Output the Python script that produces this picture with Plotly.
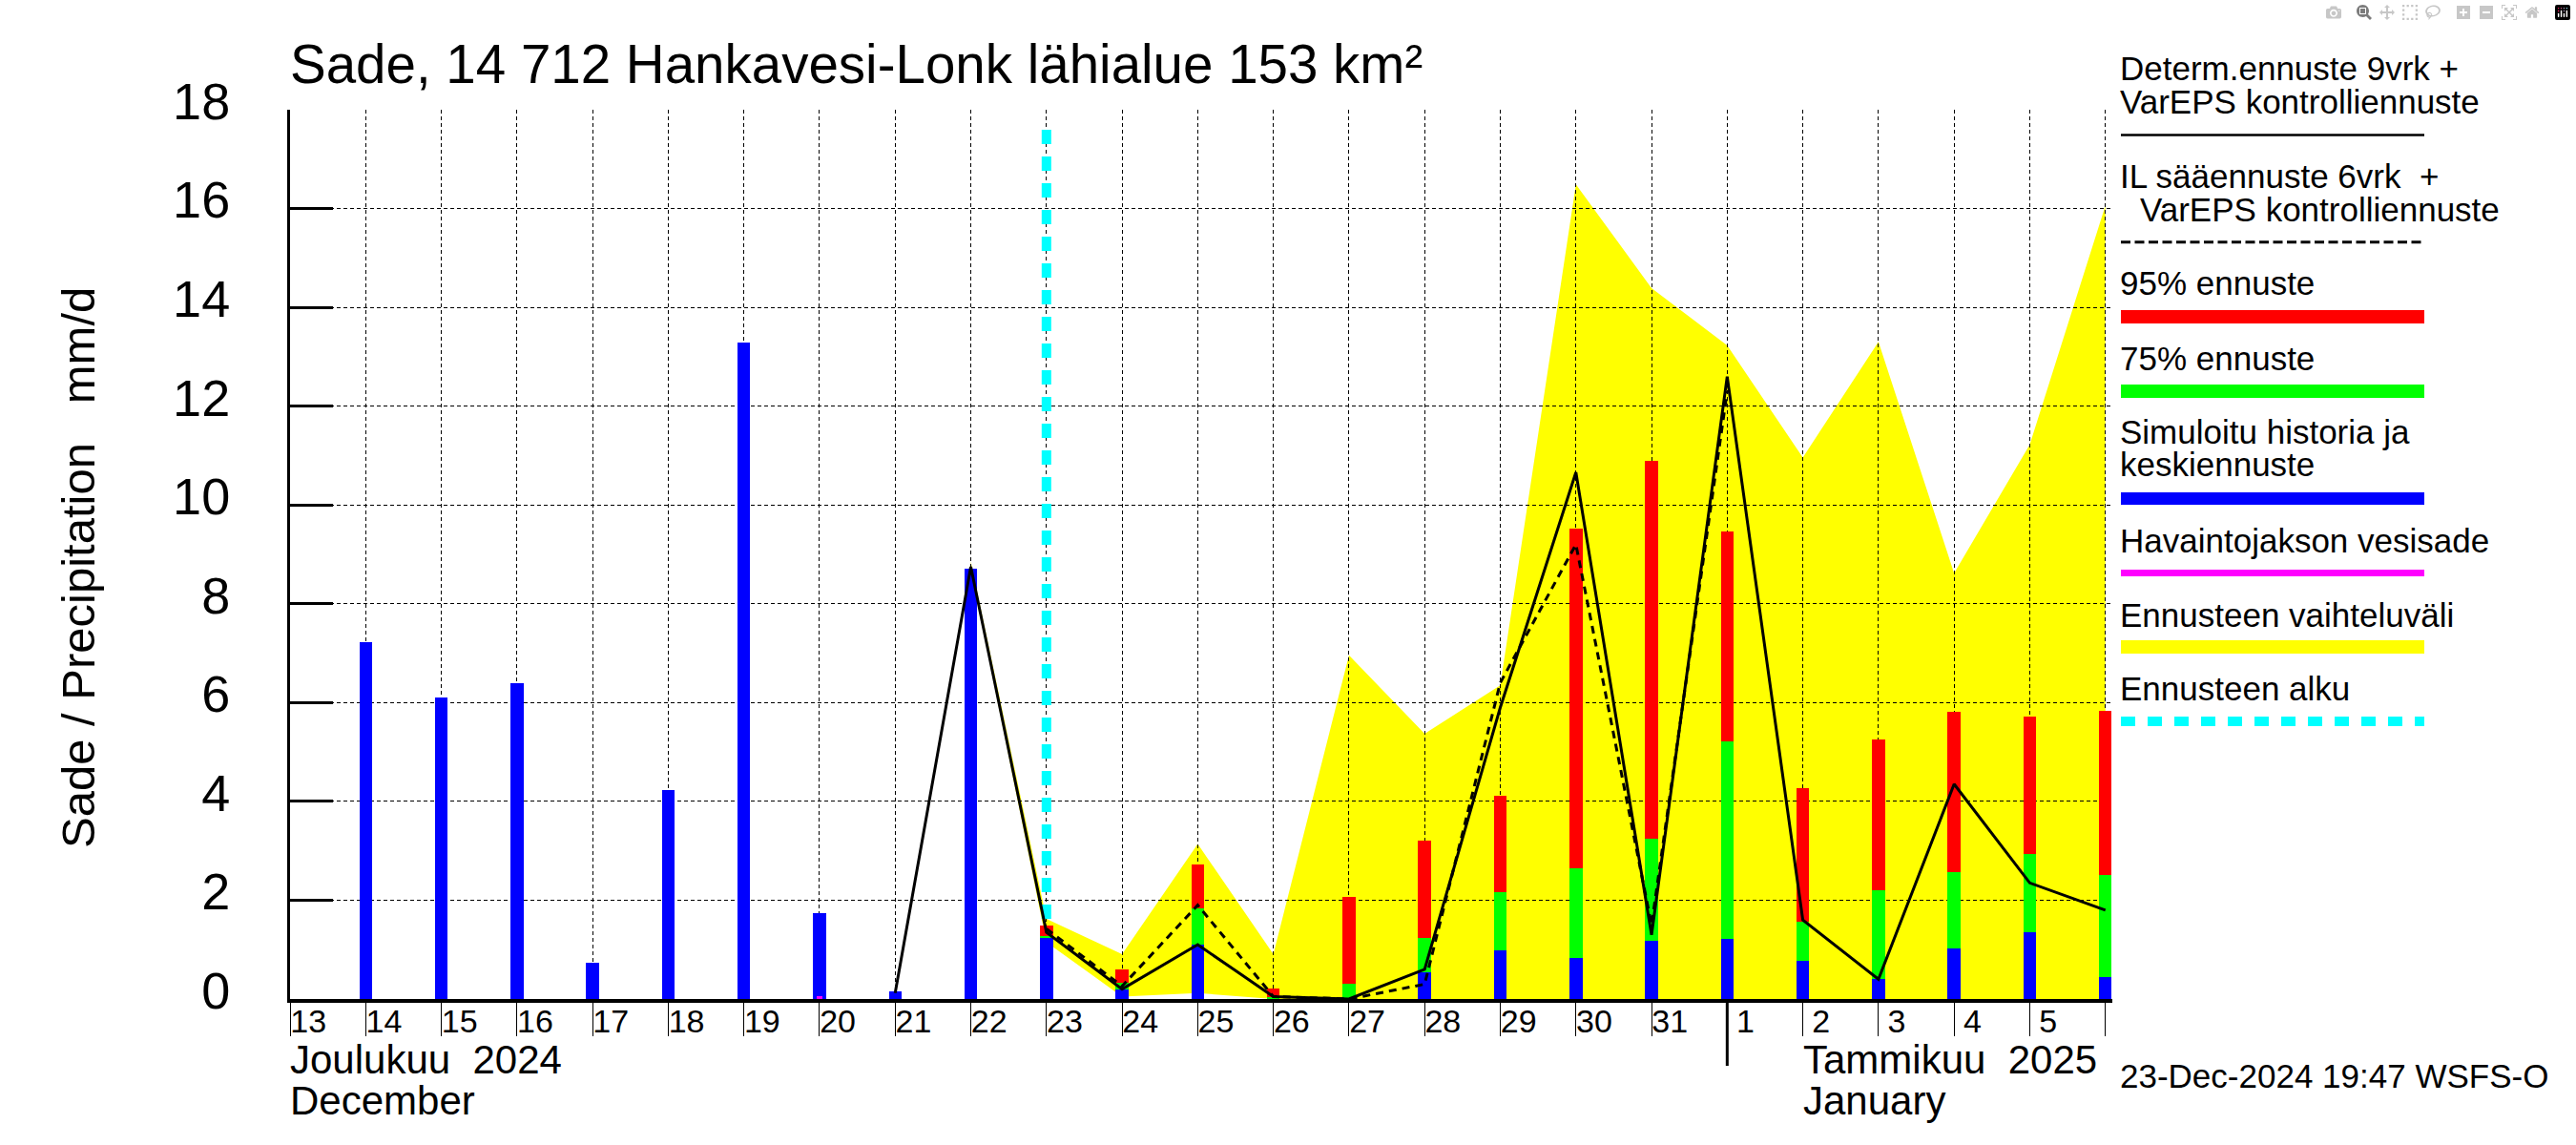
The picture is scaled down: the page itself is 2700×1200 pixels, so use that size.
import pandas as pd
import plotly.graph_objects as go

# ---------------- data ----------------
hist_dates = pd.date_range("2024-12-14", "2024-12-22")
hist_sim = [7.22, 6.10, 6.39, 0.73, 4.23, 13.29, 1.73, 0.15, 8.71]

obs_dates = [pd.Timestamp("2024-12-20")]
obs_rain = [0.05]

fc_dates = pd.date_range("2024-12-23", "2025-01-06")
fc_median = [1.23, 0.19, 1.10, 0.0, 0.0, 0.54, 0.99, 0.83, 1.18, 1.21, 0.78, 0.41, 1.03, 1.36, 0.45]
fc_75 = [1.27, 0.33, 1.84, 0.04, 0.31, 1.24, 2.17, 2.65, 3.25, 5.21, 1.57, 2.20, 2.57, 2.94, 2.51]
fc_95 = [1.49, 0.60, 2.72, 0.21, 2.07, 3.21, 4.11, 9.52, 10.89, 9.47, 4.26, 5.26, 5.82, 5.72, 5.84]

det_dates = pd.date_range("2024-12-21", "2025-01-06")
det_vals = [0.12, 8.75, 1.35, 0.20, 1.10, 0.05, 0.0, 0.60, 5.90, 10.66, 1.30, 12.60, 1.60, 0.40, 4.35, 2.35, 1.80]

il_dates = pd.date_range("2024-12-23", "2025-01-01")
il_vals = [1.42, 0.26, 1.90, 0.05, 0.0, 0.30, 6.40, 9.20, 1.50, 12.30]

env_dates = pd.date_range("2024-12-22", "2025-01-06")
env_hi = [8.85, 1.62, 0.91, 3.14, 0.91, 6.96, 5.37, 6.35, 16.49, 14.39, 13.23, 10.96, 13.30, 8.62, 11.22, 16.06]
env_lo = [8.70, 1.15, 0.05, 0.12, 0.0, 0.0, 0.0, 0.0, 0.0, 0.0, 0.0, 0.0, 0.0, 0.0, 0.0, 0.0]

forecast_start = pd.Timestamp("2024-12-23")
month_start = pd.Timestamp("2025-01-01")

tick_dates = pd.date_range("2024-12-13", "2025-01-06")
label_dates = pd.date_range("2024-12-13", "2025-01-05")
day_labels = ["13", "14", "15", "16", "17", "18", "19", "20", "21", "22", "23", "24",
              "25", "26", "27", "28", "29", "30", "31", "1", "2", "3", "4", "5"]
y_ticks = [0, 2, 4, 6, 8, 10, 12, 14, 16, 18]

title = "Sade, 14 712 Hankavesi-Lonk lähialue 153 km²"
y_title = "Sade / Precipitation\u00a0\u00a0 mm/d"
stamp = "23-Dec-2024 19:47 WSFS-O"

# ---------------- geometry / style ----------------
W, H = 2700, 1200
L, R, T, B = 304, 2214, 115, 1047
FONT = "Liberation Sans, Arial, Helvetica, sans-serif"
BAR_W = 0.17 * 86400000
x_range = [tick_dates[0], tick_dates[-1] + pd.Timedelta(hours=2.2)]


def px_x(px):
    return (px - L) / (R - L)


def px_y(py):
    return (B - py) / (B - T)


fig = go.Figure()

# subplot 1: forecast range envelope (under the grid)
fig.add_trace(go.Scatter(x=env_dates, y=env_lo, mode="lines", line=dict(width=0, color="yellow"),
                         xaxis="x", yaxis="y", hoverinfo="skip"))
fig.add_trace(go.Scatter(x=env_dates, y=env_hi, mode="lines", line=dict(width=0, color="yellow"),
                         fill="tonexty", fillcolor="#FFFF00", xaxis="x", yaxis="y"))

# subplot 2: grid, bars, lines
start_idx = list(env_dates).index(forecast_start)
fig.add_trace(go.Scatter(x=[forecast_start, forecast_start], y=[env_hi[start_idx], 17.8], mode="lines",
                         line=dict(color="#00FFFF", width=10, dash="15px,13px"),
                         xaxis="x2", yaxis="y2"))
fig.add_trace(go.Bar(x=fc_dates, y=fc_95, width=BAR_W, marker=dict(color="#FF0000", line=dict(width=0)),
                     xaxis="x2", yaxis="y2"))
fig.add_trace(go.Bar(x=fc_dates, y=fc_75, width=BAR_W, marker=dict(color="#00FF00", line=dict(width=0)),
                     xaxis="x2", yaxis="y2"))
fig.add_trace(go.Bar(x=fc_dates, y=fc_median, width=BAR_W, marker=dict(color="#0000FF", line=dict(width=0)),
                     xaxis="x2", yaxis="y2"))
fig.add_trace(go.Bar(x=hist_dates, y=hist_sim, width=BAR_W, marker=dict(color="#0000FF", line=dict(width=0)),
                     xaxis="x2", yaxis="y2"))
fig.add_trace(go.Bar(x=obs_dates, y=obs_rain, width=0.07 * 86400000,
                     marker=dict(color="#FF00FF", line=dict(width=0)), xaxis="x2", yaxis="y2"))
fig.add_trace(go.Scatter(x=det_dates, y=det_vals, mode="lines", line=dict(color="black", width=3),
                         xaxis="x2", yaxis="y2"))
fig.add_trace(go.Scatter(x=il_dates, y=il_vals, mode="lines", line=dict(color="black", width=3, dash="8px,6px"),
                         xaxis="x2", yaxis="y2"))

label_pos = [d + pd.Timedelta(hours=5.8) for d in label_dates]

annotations = []


def text(s, x_px, base_px, size, anchor="left"):
    annotations.append(dict(text=s, x=px_x(x_px), y=px_y(base_px - 0.3465 * size), xref="paper", yref="paper",
                            xanchor=anchor, yanchor="middle", showarrow=False,
                            font=dict(family=FONT, size=size, color="black")))


text(title, 302, 87, 56.5)
text("Joulukuu\u00a0\u00a02024", 302, 1125, 42)
text("December", 302, 1168, 42)
text("Tammikuu\u00a0\u00a02025", 1888, 1125, 42)
text("January", 1888, 1168, 42)
text(stamp, 2220, 1140, 35)

legend_text = [("Determ.ennuste 9vrk +", 2220, 84), ("VarEPS kontrolliennuste", 2220, 119),
               ("IL sääennuste 6vrk\u00a0 +", 2220, 197), ("VarEPS kontrolliennuste", 2241, 231.5),
               ("95% ennuste", 2220, 309), ("75% ennuste", 2220, 388),
               ("Simuloitu historia ja", 2220, 465), ("keskiennuste", 2220, 499),
               ("Havaintojakson vesisade", 2220, 578.5), ("Ennusteen vaihteluväli", 2220, 656.6),
               ("Ennusteen alku", 2220, 734)]
for s, x, b in legend_text:
    text(s, x, b, 35)

annotations.append(dict(text=y_title, x=px_x(82), y=px_y(595), xref="paper", yref="paper", textangle=-90,
                        xanchor="center", yanchor="middle", showarrow=False,
                        font=dict(family=FONT, size=49, color="black")))

shapes = []
legend_lines = [(141.6, "black", 2.5, "solid"), (253.7, "black", 3, "10px,4.5px"),
                (332, "#FF0000", 14, "solid"), (410, "#00FF00", 14, "solid"),
                (522.5, "#0000FF", 13, "solid"), (600.5, "#FF00FF", 7, "solid"),
                (678, "#FFFF00", 14, "solid"), (756, "#00FFFF", 10, "15px,13px")]
for yy, c, w, d in legend_lines:
    shapes.append(dict(type="line", xref="paper", yref="paper", x0=px_x(2223), x1=px_x(2541),
                       y0=px_y(yy), y1=px_y(yy), line=dict(color=c, width=w, dash=d)))
# month separator tick
shapes.append(dict(type="line", xref="x2", yref="paper", x0=month_start, x1=month_start,
                   y0=px_y(1047), y1=px_y(1117), line=dict(color="black", width=3)))

fig.update_layout(
    width=W, height=H,
    margin=dict(l=L, r=W - R, t=T, b=H - B, pad=0),
    paper_bgcolor="white", plot_bgcolor="rgba(0,0,0,0)",
    showlegend=False, barmode="overlay", bargap=0,
    font=dict(family=FONT, color="black"),
    xaxis=dict(domain=[0, 1], anchor="y", type="date", range=x_range, visible=False, fixedrange=True),
    yaxis=dict(domain=[0, 1], anchor="x", range=[0, 18], visible=False, fixedrange=True),
    xaxis2=dict(domain=[0, 1], anchor="y2", type="date", range=x_range,
                tickmode="array", tickvals=label_pos, ticktext=day_labels, ticks="",
                showgrid=False, zeroline=False, ticklabelstandoff=-10,
                tickfont=dict(family=FONT, size=34, color="black"),
                showline=True, linewidth=4, linecolor="black",
                minor=dict(tickmode="array", tickvals=list(tick_dates), ticks="outside", ticklen=35,
                           tickwidth=1, tickcolor="black", showgrid=True, gridcolor="black",
                           gridwidth=1, griddash="4px,3px")),
    yaxis2=dict(domain=[0, 1], anchor="x2", range=[0, 18], tickmode="array", tickvals=y_ticks,
                ticks="inside", ticklen=45, tickwidth=3, tickcolor="black",
                showgrid=True, gridcolor="black", gridwidth=1, griddash="4px,3px",
                zeroline=False, showline=True, linewidth=3, linecolor="black",
                tickfont=dict(family=FONT, size=54, color="black"),
                ticklabelstandoff=49, ticklabelshift=-9),
    annotations=annotations, shapes=shapes,
)

fig.write_html("out.html", post_script="document.body.style.margin='0';document.body.style.overflow='hidden';")
